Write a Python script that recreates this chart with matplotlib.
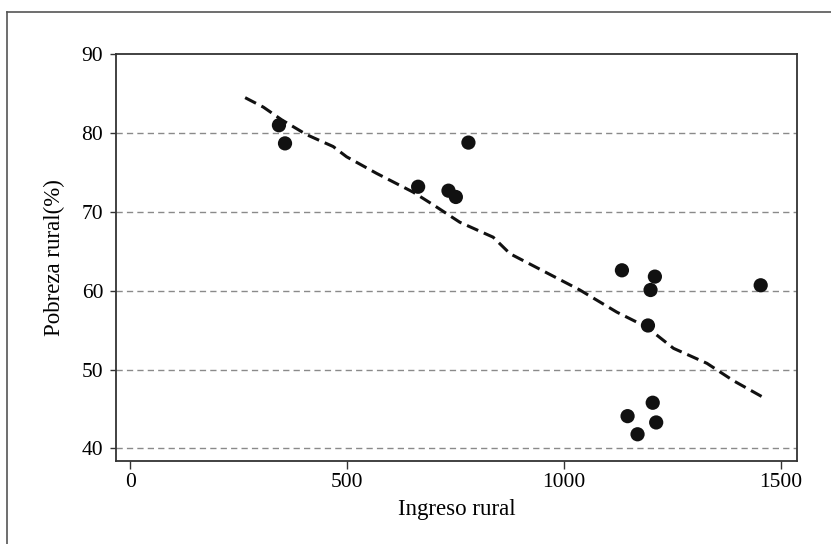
import matplotlib.pyplot as plt
from matplotlib.lines import Line2D

# scatter points
ingreso = [343, 357, 664, 734, 751, 780, 1134, 1210, 1200, 1194, 1454, 1205, 1147, 1213, 1170]
pobreza = [81.0, 78.7, 73.2, 72.7, 71.9, 78.8, 62.6, 61.8, 60.1, 55.6, 60.7, 45.8, 44.1, 43.3, 41.8]

# smoothed (dashed) curve
curva_x = [265, 307, 349, 407, 468, 499, 568, 653, 699, 760, 837, 876, 960, 1037, 1122, 1191, 1253, 1330, 1391, 1456]
curva_y = [84.5, 83.3, 81.7, 79.8, 78.3, 77.0, 74.9, 72.5, 70.9, 68.7, 66.8, 64.7, 62.3, 60.1, 57.3, 55.4, 52.7, 50.8, 48.6, 46.6]

x_ticks = [0, 500, 1000, 1500]
y_ticks = [40, 50, 60, 70, 80, 90]
grid_y = [40, 50, 60, 70, 80]

plt.rcParams['font.family'] = ['Liberation Serif', 'DejaVu Serif']

fig = plt.figure(figsize=(8.31, 5.44), dpi=100)
ax = fig.add_axes([0.140, 0.1517, 0.8187, 0.7485])

for g in grid_y:
  ax.axhline(g, color='#8a8a8a', lw=1.0, linestyle=(0, (4.5, 3)), zorder=1)

ax.plot(curva_x, curva_y, color='#111111', lw=2.2, linestyle=(0, (4, 2)), zorder=2)
ax.scatter(ingreso, pobreza, s=105, color='#111111', edgecolors='none', zorder=3)

ax.set_xlim(-32, 1537)
ax.set_ylim(38.35, 90)
ax.set_xticks(x_ticks)
ax.set_yticks(y_ticks)
ax.tick_params(axis='x', length=5.5, width=1.0, pad=3, labelsize=15.5, color='#333333')
ax.tick_params(axis='y', length=4.5, width=1.0, pad=5, labelsize=15.5, color='#333333')
for s in ax.spines.values():
  s.set_color('#333333')
  s.set_linewidth(1.3)

ax.set_xlabel('Ingreso rural', fontsize=16.5, labelpad=5)
ax.set_ylabel('Pobreza rural(%)', fontsize=16.5, labelpad=12)

# outer frame (only top and left edges visible in the reference)
fig.add_artist(Line2D([7.3/831, 1.0], [1 - 11.7/544, 1 - 11.7/544], transform=fig.transFigure, color='#555555', lw=1.2))
fig.add_artist(Line2D([7.3/831, 7.3/831], [0.0, 1 - 11.7/544], transform=fig.transFigure, color='#555555', lw=1.2))

fig.savefig('out.png', dpi=100)
